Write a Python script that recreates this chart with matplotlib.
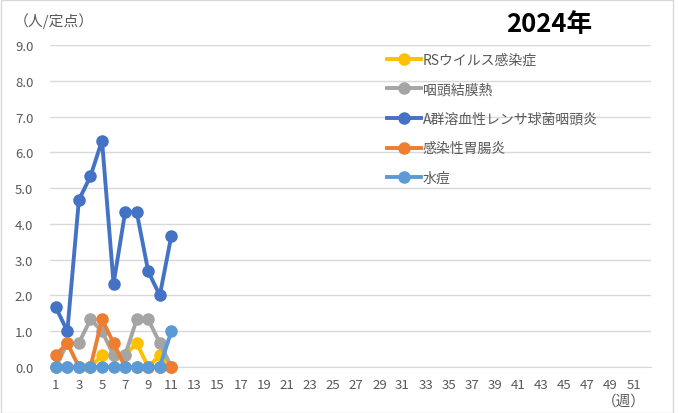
import matplotlib
matplotlib.use("Agg")
import matplotlib.pyplot as plt
from matplotlib.patches import Rectangle

plt.rcParams['font.family'] = ['Noto Sans CJK JP', 'DejaVu Sans']

weeks = list(range(1, 12))
series_names = ["RSウイルス感染症", "咽頭結膜熱", "A群溶血性レンサ球菌咽頭炎", "感染性胃腸炎", "水痘"]
rs = [0, 0, 0, 0, 0.33, 0.33, 0.33, 0.67, 0, 0.33, 0]
pcf = [0, 0.67, 0.67, 1.33, 1.0, 0.33, 0.33, 1.33, 1.33, 0.67, 0]
gas = [1.67, 1.0, 4.67, 5.33, 6.33, 2.33, 4.33, 4.33, 2.67, 2.0, 3.67]
gastro = [0.33, 0.67, 0, 0, 1.33, 0.67, 0, 0, 0, 0, 0]
varicella = [0, 0, 0, 0, 0, 0, 0, 0, 0, 0, 1.0]
colors = ["#FFC000", "#A5A5A5", "#4472C4", "#ED7D31", "#5B9BD5"]
xtick_labels = list(range(1, 52, 2))
yticks = [i * 1.0 for i in range(10)]

fig = plt.figure(figsize=(6.78, 4.14), dpi=100)
ax = fig.add_axes([50/678, 1 - 368/414, (651-50)/678, (368-46)/414])

for name, vals, c in zip(series_names, [rs, pcf, gas, gastro, varicella], colors):
    ax.plot(weeks, vals, color=c, lw=2.8, marker='o', ms=8, label=name,
            solid_joinstyle='round', clip_on=False, zorder=3)

ax.set_xlim(0.5, 52.5)
ax.set_ylim(0, 9)
ax.set_yticks(yticks)
ax.set_yticklabels([f"{v:.1f}" for v in yticks], fontsize=9.5, color="#595959")
ax.set_xticks(xtick_labels)
ax.set_xticklabels([str(v) for v in xtick_labels], fontsize=9.5, color="#595959")
ax.grid(axis='y', color="#D9D9D9", lw=1)
ax.set_axisbelow(True)
for s in ['top', 'right', 'left']:
    ax.spines[s].set_visible(False)
ax.spines['bottom'].set_color("#D9D9D9")
ax.tick_params(length=0, pad=8)
ax.tick_params(axis='y', pad=12)

leg = ax.legend(loc='upper left', bbox_to_anchor=(327/601, 1 + 2/322), frameon=False,
                fontsize=10, labelspacing=1.12, handlelength=2.5, handletextpad=0.1,
                borderpad=0.2)
for t in leg.get_texts():
    t.set_color("#595959")

fig.text(549/678, 1 - 24/414, "2024年", fontsize=18.5, fontweight='bold', ha='center', va='center', color='black')
fig.text(14/678, 1 - 21/414, "（人/定点）", fontsize=10.7, ha='left', va='center', color="#595959")
fig.text(624/678, 1 - 402/414, "（週）", fontsize=10.5, ha='center', va='center', color="#595959")

fig.patches.append(Rectangle((0.5/678, 0.5/414), 672/678, 1 - 1/414, transform=fig.transFigure,
                             fill=False, edgecolor="#D9D9D9", lw=1))

fig.savefig("out.png", dpi=100)
